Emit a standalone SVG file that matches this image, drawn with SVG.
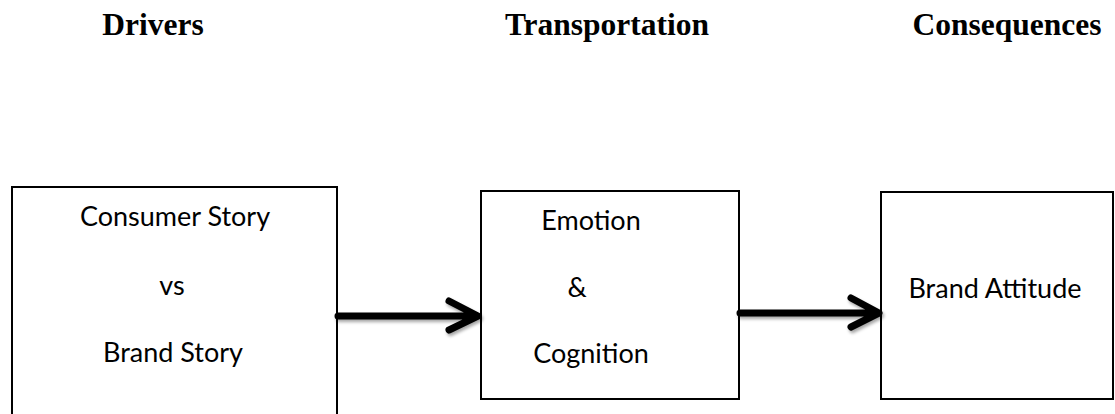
<svg xmlns="http://www.w3.org/2000/svg" width="1115" height="414" viewBox="0 0 1115 414">
  <style>
    .hdr { font-family: "Liberation Serif", "Times New Roman", serif; font-weight: bold; font-size: 31.5px; fill: #000; text-anchor: middle; }
    .lbl { font-family: Lato, "Liberation Sans", sans-serif; font-size: 27px; fill: #000; text-anchor: middle; }
    .box { fill: #fff; stroke: #000; stroke-width: 2; }
    .arr { fill: none; stroke: #000; stroke-width: 7; stroke-linecap: round; stroke-linejoin: round; }
  </style>
  <defs>
    <filter id="shadow" x="-10%" y="-50%" width="130%" height="200%">
      <feDropShadow dx="1.5" dy="2.5" stdDeviation="1.5" flood-color="#000" flood-opacity="0.35"/>
    </filter>
  </defs>
  <rect width="1115" height="414" fill="#fff"/>
  <g id="headers">
    <text class="hdr" x="153" y="35">Drivers</text>
    <text class="hdr" x="607" y="35">Transportation</text>
    <text class="hdr" x="1007" y="35">Consequences</text>
  </g>
  <g id="node-drivers">
    <rect class="box" x="12" y="187" width="325" height="240"/>
    <text class="lbl" x="175" y="226">Consumer Story</text>
    <text class="lbl" x="172" y="295">vs</text>
    <text class="lbl" x="173" y="362">Brand Story</text>
  </g>
  <g id="node-transportation">
    <rect class="box" x="481" y="191" width="258" height="208"/>
    <text class="lbl" x="591" y="230">Emotion</text>
    <text class="lbl" x="577" y="297">&amp;</text>
    <text class="lbl" x="591" y="363">Cognition</text>
  </g>
  <g id="node-consequences">
    <rect class="box" x="881" y="192" width="232" height="207"/>
    <text class="lbl" x="995" y="298">Brand Attitude</text>
  </g>
  <g id="connectors" filter="url(#shadow)">
    <path class="arr" d="M 338 316 L 476 316 M 449 301 L 478 316 L 449 330"/>
    <path class="arr" d="M 740 313 L 877 313 M 851 298 L 879 313 L 851 327"/>
  </g>
</svg>
